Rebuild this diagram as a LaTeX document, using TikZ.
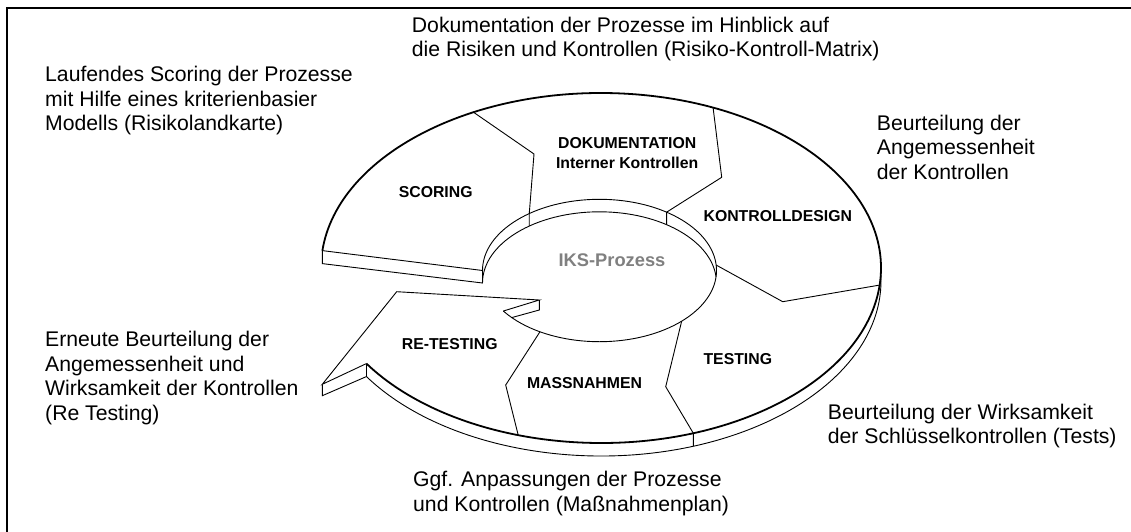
\documentclass[tikz,border=0pt]{standalone}
\usepackage{fontspec}
\setmainfont{Liberation Sans}
\definecolor{iksgray}{RGB}{128,128,128}
\begin{document}
\begin{tikzpicture}[x=1pt,y=-1pt,
  ln/.style={line width=0.9pt, line join=miter},
  outerline/.style={line width=1.8pt},
  para/.style={anchor=base west, inner sep=0pt, font=\fontsize{21.2}{24.5}\selectfont},
  lab/.style={inner sep=0pt, font=\fontsize{15.8}{19.4}\selectfont\bfseries, align=center},
]
\useasboundingbox (0,0) rectangle (1131,532);
\draw[line width=2.2pt] (7,532) -- (7,8) -- (1131,8);

% outer ellipse (centre 601,268; radii 280,175), depth 13
\coordinate (oL)   at ({601+280*cos(-174.3)},{268+175*sin(-174.3)});
\coordinate (oLb)  at ({601+280*cos(-174.3)},{281+175*sin(-174.3)});
\coordinate (oN2)  at ({601+280*cos(146.9)},{268+175*sin(146.9)});
\coordinate (oN2b) at ({601+280*cos(146.9)},{281+175*sin(146.9)});
\coordinate (d1o)  at ({601+280*cos(-117.1)},{268+175*sin(-117.1)});
\coordinate (d2o)  at ({601+280*cos(-66.4)},{268+175*sin(-66.4)});
\coordinate (d3o)  at ({601+280*cos(5.6)},{268+175*sin(5.6)});
\coordinate (d4o)  at ({601+280*cos(70.75)},{268+175*sin(70.75)});
\coordinate (d4ob) at ({601+280*cos(70.75)},{281+175*sin(70.75)});
\coordinate (d5o)  at ({601+280*cos(107.2)},{268+175*sin(107.2)});
% inner ellipse (centre 599.5,270.5; radii 117,71.2), depth 12.5
\coordinate (iL)   at (482.5,270.5);
\coordinate (iLb)  at (482.5,283);
\coordinate (iN1)  at ({599.5+117*cos(145.3)},{270.5+71.2*sin(145.3)});
\coordinate (iF)   at ({599.5+117*cos(138.6)},{270.5+71.2*sin(138.6)});
\coordinate (d1i)  at ({599.5+117*cos(233.1)},{270.5+71.2*sin(233.1)});
\coordinate (d1ib) at ({599.5+117*cos(233.1)},{283+71.2*sin(233.1)});
\coordinate (d2i)  at ({599.5+117*cos(305)},{270.5+71.2*sin(305)});
\coordinate (d2ib) at ({599.5+117*cos(305)},{283+71.2*sin(305)});
\coordinate (d3i)  at ({599.5+117*cos(355.6)},{270.5+71.2*sin(355.6)});
\coordinate (d4i)  at ({599.5+117*cos(45.4)},{270.5+71.2*sin(45.4)});
\coordinate (d5i)  at ({599.5+117*cos(120.6)},{270.5+71.2*sin(120.6)});
% arrow head
\coordinate (T1)  at (539.3,300);
\coordinate (T1b) at (539.3,310);
\coordinate (T)   at (396.7,291.7);
\coordinate (T2)  at (322.3,384.3);
\coordinate (T2b) at (322.3,395.7);
% divider kinks
\coordinate (k1) at (534,154);
\coordinate (k2) at (721.7,177.3);
\coordinate (k3) at (782.7,301.7);
\coordinate (k4) at (665.7,386.7);
\coordinate (k5) at (505.7,385);

% ring
\draw[outerline] (oL) arc[start angle=-174.3, end angle=146.9, x radius=280, y radius=175];
\draw[ln] (oN2b) arc[start angle=146.9, end angle=-2.1, x radius=280, y radius=175];
\draw[ln] (oL) -- (oLb) -- (iLb) -- (iL) -- cycle;
\draw[ln] (iL) arc[start angle=180, end angle=505.3, x radius=117, y radius=71.2];
\draw[ln] (iLb) arc[start angle=180, end angle=354.96, x radius=117, y radius=71.2];
% arrow head
\draw[ln] (iN1) -- (T1) -- (T) -- (T2) -- (oN2);
\draw[ln] (T1) -- (T1b) -- (iF);
\draw[ln] (T2) -- (T2b) -- (oN2b) -- (oN2);
% dividers
\draw[ln] (d1o) -- (k1) -- (d1i) -- (d1ib);
\draw[ln] (d2o) -- (k2) -- (d2i) -- (d2ib);
\draw[ln] (d3i) -- (k3) -- (d3o);
\draw[ln] (d4i) -- (k4) -- (d4o) -- (d4ob);
\draw[ln] (d5i) -- (k5) -- (d5o);

% segment labels
\node[lab] (scoring) at (435.7,191.7) {SCORING};
\node[lab] (doku) at (627.2,153) {DOKUMENTATION\\Interner Kontrollen};
\node[lab] (design) at (777.8,215.7) {KONTROLLDESIGN};
\node[lab] (testing) at (737.8,359) {TESTING};
\node[lab] (massn) at (584.5,383.3) {MASSNAHMEN};
\node[lab] (retest) at (449.7,344.3) {RE-TESTING};
\node[inner sep=0pt, font=\fontsize{18.3}{22}\selectfont\bfseries, text=iksgray] (iks) at (612,260) {IKS-Prozess};

% descriptions
\node[para] (p1) at (45,81.7) {\vtop{\hbox{Laufendes Scoring der Prozesse}\hbox{mit Hilfe eines kriterienbasier}\hbox{Modells (Risikolandkarte)}}};
\node[para] (p2) at (411.7,32.5) {\vtop{\hbox{Dokumentation der Prozesse im Hinblick auf}\hbox{die Risiken und Kontrollen (Risiko-Kontroll-Matrix)}}};
\node[para] (p3) at (876.7,130) {\vtop{\hbox{Beurteilung der}\hbox{Angemessenheit}\hbox{der Kontrollen}}};
\node[para] (p4) at (45,346.5) {\vtop{\hbox{Erneute Beurteilung der}\hbox{Angemessenheit und}\hbox{Wirksamkeit der Kontrollen}\hbox{(Re Testing)}}};
\node[para] (p5) at (827.7,419) {\vtop{\hbox{Beurteilung der Wirksamkeit}\hbox{der Schlüsselkontrollen (Tests)}}};
\node[para] (p6) at (413,486.5) {\vtop{\hbox{Ggf. Anpassungen der Prozesse}\hbox{und Kontrollen (Maßnahmenplan)}}};
\end{tikzpicture}
\end{document}
